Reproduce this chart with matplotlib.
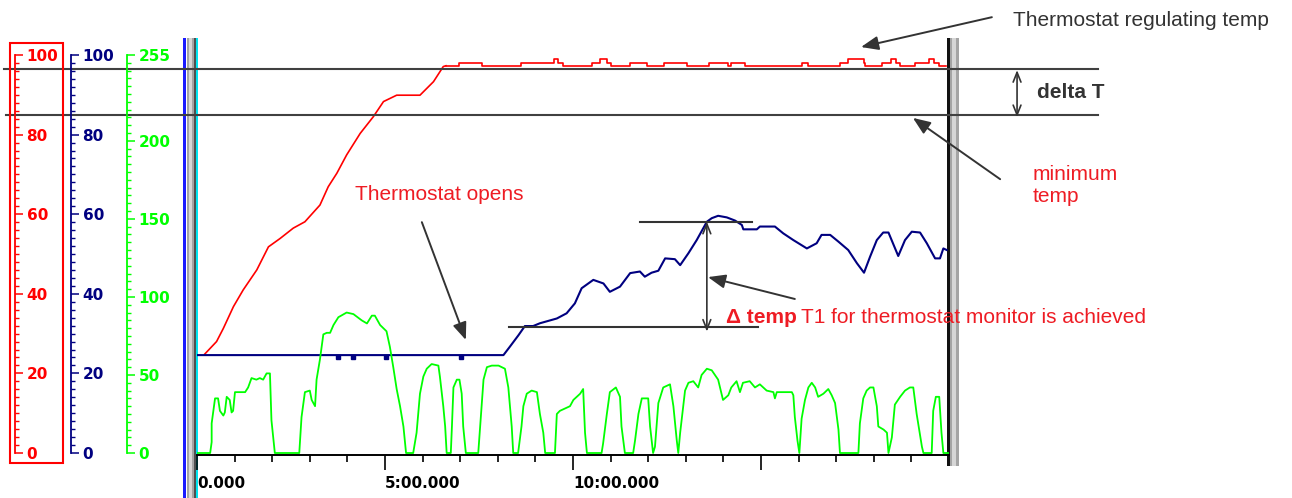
import numpy as np
import matplotlib
matplotlib.use('Agg')
import matplotlib.pyplot as plt
from matplotlib.patches import Rectangle

# time in minutes, temperatures on the 0-100 scales, green channel on 0-255
red_ramp_t = [0.20, 0.52, 0.70, 0.97, 1.23, 1.59, 1.90, 2.21, 2.56, 2.87, 3.27, 3.49,
              3.72, 3.98, 4.34, 4.69, 4.96, 5.31, 5.93, 6.29, 6.55, 6.62]
red_ramp_v = [24.8, 28.0, 31.3, 36.8, 41.0, 46.0, 51.8, 53.9, 56.5, 58.1, 62.3, 66.9,
              70.3, 74.9, 80.3, 84.5, 88.3, 89.9, 89.9, 93.3, 97.1, 97.3]

red_hold_t = [6.62, 6.98, 7.58, 8.63, 9.50, 9.59, 9.73, 10.50, 10.73, 10.91, 11.01, 11.51,
              11.97, 12.42, 13.02, 13.61, 14.11, 14.20, 14.57, 16.08, 16.26, 17.09, 17.31,
              17.73, 17.77, 18.23, 18.46, 18.60, 18.69, 19.10, 19.46, 19.60, 19.74, 19.92]
red_hold_v = [97.3, 98.0, 97.3, 98.0, 99.0, 98.0, 97.3, 98.0, 99.0, 98.0, 97.3, 98.0,
              97.3, 98.0, 97.3, 98.0, 97.3, 98.0, 97.3, 98.0, 97.3, 98.0, 99.0,
              98.0, 97.3, 98.0, 99.0, 98.0, 97.3, 98.0, 99.0, 98.0, 97.3, 97.3]

navy_t = [0.00, 8.15, 8.32, 8.55, 8.72, 8.94, 9.12, 9.57, 9.83, 10.05, 10.23, 10.54, 10.81,
          10.98, 11.25, 11.52, 11.78, 11.91, 12.09, 12.27, 12.45, 12.71, 12.85, 13.07, 13.29,
          13.56, 13.69, 13.86, 14.09, 14.31, 14.49, 14.53, 14.89, 14.97, 15.37, 15.59, 15.86,
          16.22, 16.48, 16.61, 16.84, 17.06, 17.32, 17.55, 17.74, 17.90, 18.08, 18.25, 18.39,
          18.65, 18.83, 19.01, 19.23, 19.41, 19.63, 19.76, 19.85, 19.94]
navy_v = [24.6, 24.6, 26.7, 29.6, 31.9, 31.9, 32.6, 33.8, 35.1, 37.6, 41.4, 43.5, 42.6,
          40.5, 41.8, 45.2, 45.6, 44.3, 45.3, 45.8, 48.9, 48.7, 47.2, 50.2, 53.5,
          58.1, 59.0, 59.6, 59.2, 58.4, 57.3, 56.2, 56.2, 56.9, 56.9, 55.2, 53.5,
          51.4, 52.7, 54.8, 54.8, 53.1, 51.0, 47.7, 45.3, 49.3, 53.5, 55.4, 55.4,
          49.5, 53.5, 55.6, 55.4, 52.7, 48.9, 48.9, 51.4, 51.0]
navy_drop_t = [3.75, 4.14, 5.03, 7.02]
navy_drop_v = [24.0, 24.0, 24.0, 24.0]

green_t = [0.00, 0.35, 0.39, 0.39, 0.48, 0.56, 0.61, 0.70, 0.74, 0.79, 0.87, 0.92, 0.96, 1.01,
           1.28, 1.36, 1.45, 1.58, 1.67, 1.76, 1.85, 1.94, 1.98, 2.07, 2.72, 2.78, 2.87, 3.00,
           3.05, 3.14, 3.18, 3.27, 3.36, 3.45, 3.54, 3.63, 3.76, 3.98, 4.16, 4.38, 4.52, 4.65,
           4.73, 4.87, 5.04, 5.13, 5.22, 5.31, 5.40, 5.49, 5.56, 5.75, 5.84, 5.93, 6.02, 6.11,
           6.24, 6.42, 6.46, 6.55, 6.60, 6.64, 6.75, 6.78, 6.82, 6.91, 6.98, 7.04, 7.08, 7.15,
           7.48, 7.53, 7.62, 7.71, 7.84, 8.02, 8.19, 8.28, 8.37, 8.41, 8.54, 8.63, 8.68, 8.77,
           8.90, 9.04, 9.12, 9.21, 9.26, 9.52, 9.57, 9.65, 9.92, 10.01, 10.19, 10.27, 10.32,
           10.37, 10.76, 10.80, 10.90, 10.98, 11.14, 11.25, 11.29, 11.38, 11.60, 11.65, 11.74,
           11.83, 12.00, 12.05, 12.13, 12.18, 12.27, 12.40, 12.58, 12.67, 12.76, 12.80, 12.85,
           12.98, 13.07, 13.20, 13.33, 13.42, 13.56, 13.69, 13.86, 13.99, 14.13, 14.21, 14.35,
           14.44, 14.52, 14.70, 14.84, 14.97, 15.15, 15.33, 15.37, 15.42, 15.82, 15.86, 15.90,
           15.97, 16.02, 16.08, 16.17, 16.26, 16.35, 16.44, 16.52, 16.66, 16.79, 16.88, 16.97,
           17.06, 17.10, 17.59, 17.63, 17.72, 17.81, 17.90, 17.99, 18.08, 18.12, 18.26, 18.35,
           18.39, 18.48, 18.56, 18.70, 18.83, 18.96, 19.05, 19.14, 19.28, 19.32, 19.54, 19.58,
           19.65, 19.74, 19.80, 19.85, 19.98]
green_v = [0, 0, 7, 19, 35, 35, 27, 24, 26, 36, 34, 26, 27, 39,
           39, 42, 48, 47, 48, 47, 51, 51, 21, 0, 0, 23, 39, 40,
           34, 30, 47, 60, 76, 77, 77, 82, 87, 90, 89, 85, 83, 88,
           88, 82, 78, 68, 55, 41, 30, 17, 0, 0, 13, 38, 49, 54,
           57, 56, 49, 30, 17, 0, 0, 17, 42, 47, 47, 38, 17, 0,
           0, 17, 47, 55, 56, 56, 54, 42, 17, 0, 0, 17, 30, 38,
           40, 39, 25, 13, 0, 0, 25, 27, 30, 34, 38, 41, 13,
           0, 0, 6, 25, 39, 42, 36, 17, 0, 0, 8, 25,
           35, 35, 17, 0, 4, 32, 42, 44, 30, 8, 0, 13,
           40, 45, 46, 42, 50, 54, 53, 47, 34, 37, 42, 46,
           39, 45, 46, 42, 44, 40, 39, 35, 39, 39, 37, 23,
           8, 0, 22, 34, 42, 45, 42, 36, 38, 41, 37, 32,
           15, 0, 0, 19, 35, 40, 42, 42, 30, 17, 15, 13,
           0, 10, 31, 36, 40, 42, 42, 25, 4, 0, 0, 27,
           36, 36, 13, 0, 0]

regulating_temp = 96.4
minimum_temp = 85.0
delta_hi = 58.1
delta_lo = 31.7

x_major = [0, 5, 10, 15]
x_labels = ['0.000', '5:00.000', '10:00.000', '']

W, H = 1292, 498
RED = '#ff0000'
NAVY = '#000080'
GREEN = '#00ff00'
TXT_RED = '#ee1c24'
DARK = '#333333'

fig = plt.figure(figsize=(W / 100, H / 100), dpi=100)
fig.patch.set_facecolor('white')

ax = fig.add_axes([197 / W, 1 - 455 / H, 752 / W, 400 / H])
ax.set_xlim(0, 20)
ax.set_ylim(-0.5, 100)
ax.patch.set_visible(False)
for k in ['left', 'right', 'top']:
    ax.spines[k].set_visible(False)
ax.spines['bottom'].set_linewidth(1.4)
ax.set_yticks([])
ax.set_xticks(x_major)
ax.set_xticklabels(x_labels)
ax.set_xticks(np.arange(0, 20, 1), minor=True)
ax.tick_params(axis='x', which='major', length=11, width=1.2, pad=4, labelsize=11)
ax.tick_params(axis='x', which='minor', length=5, width=1.2)
for lab in ax.get_xticklabels():
    lab.set_fontweight('bold')
    lab.set_ha('left')

axg = ax.twinx()
axg.set_ylim(-0.5 * 2.55, 255)
axg.axis('off')

axg.plot(green_t, green_v, color=GREEN, lw=1.3, zorder=2)
ax.plot(red_ramp_t, red_ramp_v, color=RED, lw=1.2, zorder=2)
ax.plot(red_hold_t, red_hold_v, color=RED, lw=1.2, drawstyle='steps-post', zorder=2)
ax.plot(navy_t, navy_v, color=NAVY, lw=1.5, zorder=2)
ax.plot(navy_drop_t, navy_drop_v, 's', color=NAVY, ms=2.5, zorder=2)


def fig_rect(x0, x1, y0, y1, color):
    ax.add_patch(Rectangle((x0 / W, 1 - y1 / H), (x1 - x0) / W, (y1 - y0) / H,
                           transform=fig.transFigure, facecolor=color, lw=0,
                           clip_on=False, zorder=1.5))


# window frame bars
fig_rect(183, 186, 38, 498, '#1a1aff')
fig_rect(186.5, 195, 38, 498, '#a4a4a4')
fig_rect(188.5, 191.5, 38, 498, '#d6d6d6')
fig_rect(194, 195.5, 38, 498, '#505050')
fig_rect(195.5, 197.5, 38, 498, '#00e4f0')
fig_rect(946.5, 949.8, 38, 466, '#111111')
fig_rect(949.8, 959, 38, 466, '#a4a4a4')
fig_rect(952, 955.5, 38, 466, '#d6d6d6')

# guide lines
ax.plot([-5.13, 23.96], [regulating_temp] * 2, color='#404040', lw=1.5, clip_on=False, zorder=3)
ax.plot([-5.08, 23.96], [minimum_temp] * 2, color='#404040', lw=1.5, clip_on=False, zorder=3)
ax.plot([11.78, 14.76], [delta_hi] * 2, color=DARK, lw=1.5, zorder=3)
ax.plot([8.30, 14.92], [delta_lo] * 2, color=DARK, lw=1.5, zorder=3)

head = '-|>,head_length=0.75,head_width=0.3'
for tail, tip in [((21.14, 109.5), (17.66, 102.0)),
                  ((5.98, 58.0), (7.15, 28.4)),
                  ((21.36, 68.8), (19.04, 84.2)),
                  ((15.90, 38.7), (13.59, 44.2))]:
    ax.annotate('', xy=tip, xytext=tail, annotation_clip=False,
                arrowprops=dict(arrowstyle=head, color=DARK, lw=1.4,
                                mutation_scale=14, shrinkA=0, shrinkB=0))
for x, top, bot in [(21.81, 96.2, 84.4), (13.56, 58.1, 30.5)]:
    ax.annotate('', xy=(x, top), xytext=(x, bot), annotation_clip=False,
                arrowprops=dict(arrowstyle='<->,head_length=0.5,head_width=0.2',
                                color=DARK, lw=1.2, mutation_scale=14,
                                shrinkA=0, shrinkB=0))


def scale_axis(xpix, color, top, major, minor):
    s = fig.add_axes([xpix / W - 1e-4, 1 - 455 / H, 1e-4, 400 / H])
    s.set_ylim(-0.5 * top / 100, top)
    s.patch.set_visible(False)
    for k in ['left', 'top', 'bottom']:
        s.spines[k].set_visible(False)
    s.spines['right'].set_color(color)
    s.spines['right'].set_linewidth(1.3)
    s.spines['right'].set_bounds(0, top)
    s.yaxis.tick_right()
    s.set_xticks([])
    s.set_yticks(major)
    s.set_yticks(np.arange(0, top + 0.1, minor), minor=True)
    s.tick_params(axis='y', which='major', length=5.8, width=1.1, colors=color,
                  pad=2.5, labelsize=11)
    s.tick_params(axis='y', which='minor', length=2.9, width=1.0, colors=color)
    for lab in s.get_yticklabels():
        lab.set_fontweight('bold')


scale_axis(15, RED, 100, [0, 20, 40, 60, 80, 100], 2)
scale_axis(71, NAVY, 100, [0, 20, 40, 60, 80, 100], 2)
scale_axis(127, GREEN, 255, [0, 50, 100, 150, 200, 255], 5)

fig.patches.append(Rectangle((10 / W, 1 - 463 / H), 53 / W, 420 / H, transform=fig.transFigure,
                             fill=False, edgecolor=RED, lw=1.5))


def ftext(x, y, s, **kw):
    fig.text(x / W, 1 - y / H, s, va='baseline', ha='left', fontsize=15,
             family='Liberation Sans', **kw)


ftext(1013, 26, 'Thermostat regulating temp', color=DARK)
ftext(1037, 98, 'delta T', color=DARK, fontweight='bold')
ftext(1033, 180, 'minimum', color=TXT_RED)
ftext(1033, 202, 'temp', color=TXT_RED)
ftext(355, 200, 'Thermostat opens', color=TXT_RED)
ftext(726, 323, '\u0394 temp', color=TXT_RED, fontweight='bold')
ftext(801, 323, 'T1 for thermostat monitor is achieved', color=TXT_RED)

fig.savefig('out.png', dpi=100)
